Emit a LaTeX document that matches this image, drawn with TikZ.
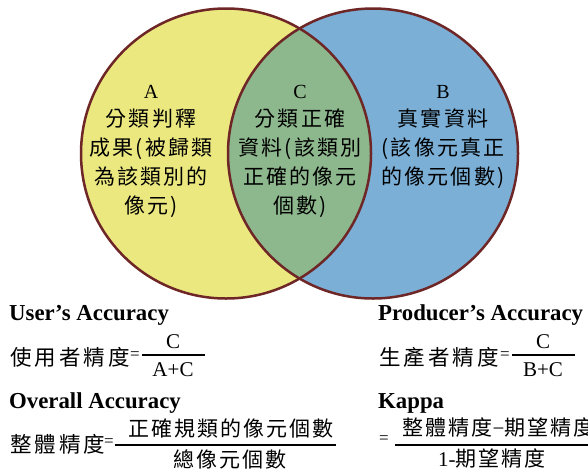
\documentclass[tikz,border=0pt]{standalone}
\usepackage{fontspec}
\setmainfont{Liberation Serif}
\newfontfamily\cjk[LetterSpace=10]{Noto Sans CJK TC}
\newfontfamily\cjkwide[LetterSpace=14]{Noto Sans CJK TC}
\definecolor{vyellow}{RGB}{236,232,128}
\definecolor{vblue}{RGB}{123,175,214}
\definecolor{vgreen}{RGB}{141,183,140}
\definecolor{vborder}{RGB}{110,38,38}
\tikzset{
  cjktext/.style={font=\cjk\fontsize{21}{29}\selectfont, align=center, inner sep=0pt},
  letter/.style={font=\fontsize{20}{24}\selectfont, inner sep=0pt},
  head/.style={font=\bfseries\fontsize{22.8}{26}\selectfont, inner sep=0pt, anchor=west},
  lbl/.style={font=\cjkwide\fontsize{21.5}{26}\selectfont, inner sep=0pt, anchor=west},
  fracpart/.style={font=\fontsize{21}{24}\selectfont, inner sep=0pt},
  cjkpart/.style={font=\cjk\fontsize{21}{24}\selectfont, inner sep=0pt},
  eqsign/.style={font=\fontsize{17}{18}\selectfont, inner sep=0pt},
  fracbar/.style={line width=2.8pt},
  ring/.style={draw=vborder, line width=2.5pt}
}
\begin{document}
\begin{tikzpicture}[x=1pt,y=-1pt]
\useasboundingbox (0,0) rectangle (588,472);
\clip (0,0) rectangle (588,472);
\fill[white] (0,0) rectangle (588,472);
% circles
\fill[vyellow] (226,153.5) circle[radius=145pt];
\fill[vblue] (373,153.5) circle[radius=145pt];
\begin{scope}
  \clip (226,153.5) circle[radius=145pt];
  \fill[vgreen] (373,153.5) circle[radius=145pt];
\end{scope}
\draw[ring] (226,153.5) circle[radius=145pt];
\draw[ring] (373,153.5) circle[radius=145pt];
% circle texts
\node[letter] (la) at (151,92) {A};
\node[cjktext] (ta) at (151,163.5) {分類判釋\\成果(被歸類\\為該類別的\\像元)};
\node[letter] (lc) at (300,92) {C};
\node[cjktext] (tc) at (300,163.5) {分類正確\\資料(該類別\\正確的像元\\個數)};
\node[letter] (lb) at (443,92) {B};
\node[cjktext] (tb) at (443,148.5) {真實資料\\(該像元真正\\的像元個數)};
% User's accuracy
\node[head] (hua) at (9,315) {User’s Accuracy};
\node[lbl] (ua) at (10,357) {使用者精度};
\node[eqsign] (uaeq) at (135,356) {=};
\coordinate (uab1) at (142,355);
\coordinate (uab2) at (205,355);
\draw[fracbar] (uab1) -- (uab2);
\node[fracpart] (uan) at (173,342) {C};
\node[fracpart] (uad) at (173,370) {A+C};
% Producer's accuracy
\node[head] (hpa) at (378,315) {Producer’s Accuracy};
\node[lbl] (pa) at (379,357) {生產者精度};
\node[eqsign] (paeq) at (505,356) {=};
\coordinate (pab1) at (512,355);
\coordinate (pab2) at (575,355);
\draw[fracbar] (pab1) -- (pab2);
\node[fracpart] (pan) at (543,342) {C};
\node[fracpart] (pad) at (543,370) {B+C};
% Overall accuracy
\node[head] (hoa) at (9,403) {Overall Accuracy};
\node[lbl] (oa) at (10,444) {整體精度};
\node[eqsign] (oaeq) at (109,443) {=};
\coordinate (oab1) at (115,445);
\coordinate (oab2) at (336,445);
\draw[fracbar] (oab1) -- (oab2);
\node[cjkpart] (oan) at (231,428) {正確規類的像元個數};
\node[cjkpart] (oad) at (230,459) {總像元個數};
% Kappa
\node[head] (hk) at (378,403) {Kappa};
\node[eqsign] (keq) at (384,440) {=};
\coordinate (kb1) at (395,445);
\coordinate (kb2) at (600,445);
\draw[fracbar] (kb1) -- (kb2);
\node[cjkpart, anchor=west] (kn) at (402,428) {整體精度{\rmfamily −}期望精度};
\node[cjkpart] (kd) at (492,459) {{\rmfamily 1-}期望精度};
\end{tikzpicture}
\end{document}
